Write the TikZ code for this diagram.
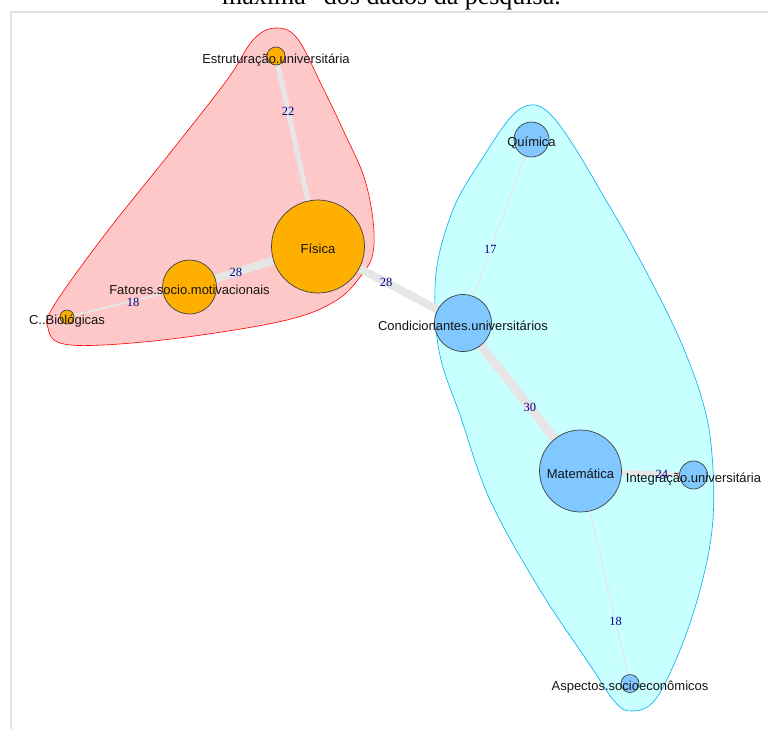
\documentclass[tikz,border=0pt]{standalone}
\usepackage{fontspec}
\setmainfont{Liberation Serif}
\setsansfont{Liberation Sans}
\definecolor{hullred}{RGB}{255, 200, 200}
\definecolor{hullcyan}{RGB}{200, 255, 255}
\definecolor{vorange}{RGB}{255, 175, 0}
\definecolor{vblue}{RGB}{128, 200, 255}
\definecolor{edgegray}{RGB}{230, 230, 230}
\definecolor{labblue}{RGB}{0, 0, 139}
\definecolor{framegray}{RGB}{226, 226, 226}
\usetikzlibrary{
    positioning,
    calc,
    backgrounds
}
\pgfdeclarelayer{hulls}
\pgfdeclarelayer{edges}
\pgfsetlayers{hulls,edges,main}

\begin{document}
\begin{tikzpicture}[x=1pt, y=-1pt,
    vert/.style={circle, draw=black!75, line width=0.7pt, inner sep=0pt},
    vlabel/.style={font=\sffamily\fontsize{13}{13}\selectfont, text=black!92, inner sep=0pt, anchor=base},
    elabel/.style={font=\fontsize{12.5}{12.5}\selectfont, text=labblue, inner sep=0pt},
    link/.style={draw=edgegray, line cap=butt}]
        \useasboundingbox (0,0) rectangle (768,729);

        % Frame and cut caption
        \draw[framegray, line width=2pt] (768,12) -- (11,12) -- (11,729);
        \node[font=\fontsize{26}{26}\selectfont, anchor=base, inner sep=0pt] (caption)
            at (391.5,4) {máxima” dos dados da pesquisa.};

        % Vertices
        \def\vertlist{
            estr/276/56/9/vorange/Estruturação.universitária,
            fis/318/246.5/46.5/vorange/Física,
            fat/189.5/287/27/vorange/Fatores.socio.motivacionais,
            cbio/67/317/7/vorange/C..Biológicas,
            qui/531.5/139.5/17.5/vblue/Química,
            cond/463/323/28.5/vblue/Condicionantes.universitários,
            mat/580.5/471/41/vblue/Matemática,
            integ/693.5/475/14/vblue/Integração.universitária,
            asp/630/683.5/9/vblue/Aspectos.socioeconômicos}
        \foreach \nm/\x/\y/\r/\col/\txt in \vertlist {
            \node[vert, fill=\col, minimum size=2*\r] (\nm) at (\x,\y) {};
        }
        \foreach \nm/\x/\y/\r/\col/\txt in \vertlist {
            \node[vlabel] (\nm-l) at ($(\nm)+(0,7)$) {\txt};
        }

        % Edges with weights
        \begin{pgfonlayer}{edges}
        \foreach \a/\b/\w/\p/\s/\val in {
            estr/fis/5/0.29/0/22,
            fis/fat/8/0.64/0/28,
            fat/cbio/2/0.46/-2/18,
            fis/cond/8/0.47/0/28,
            cond/qui/1.2/0.40/0/17,
            cond/mat/9/0.57/0/30,
            mat/integ/5/0.72/0/24,
            mat/asp/1.2/0.71/0/18} {
            \draw[link, line width=\w] (\a.center) -- node[elabel, pos=\p, yshift=\s] {\val} (\b.center);
        }
        \end{pgfonlayer}

        % Group hulls
        \begin{pgfonlayer}{hulls}
        \draw[red, fill=hullred, line width=0.6pt] plot[smooth cycle, tension=0.6] coordinates {
            (275,28) (297,38) (322,86) (345,134) (364,177) (373,220) (373,253) (363,273)
            (337,300) (287,320) (187,337) (103,345) (60,343) (48,328) (53,307) (103,237)
            (170,153) (227,80) (253,40)};
        \draw[cyan, fill=hullcyan, line width=0.6pt] plot[smooth cycle, tension=0.6] coordinates {
            (530,105) (548,112) (570,140) (600,190) (640,260) (680,340) (705,410) (713,470)
            (712,530) (700,590) (680,650) (655,700) (632,711) (615,702) (590,665) (540,590)
            (490,500) (460,415) (441,360) (435,310) (438,260) (455,205) (480,162) (510,118)};
        \end{pgfonlayer}
\end{tikzpicture}
\end{document}
